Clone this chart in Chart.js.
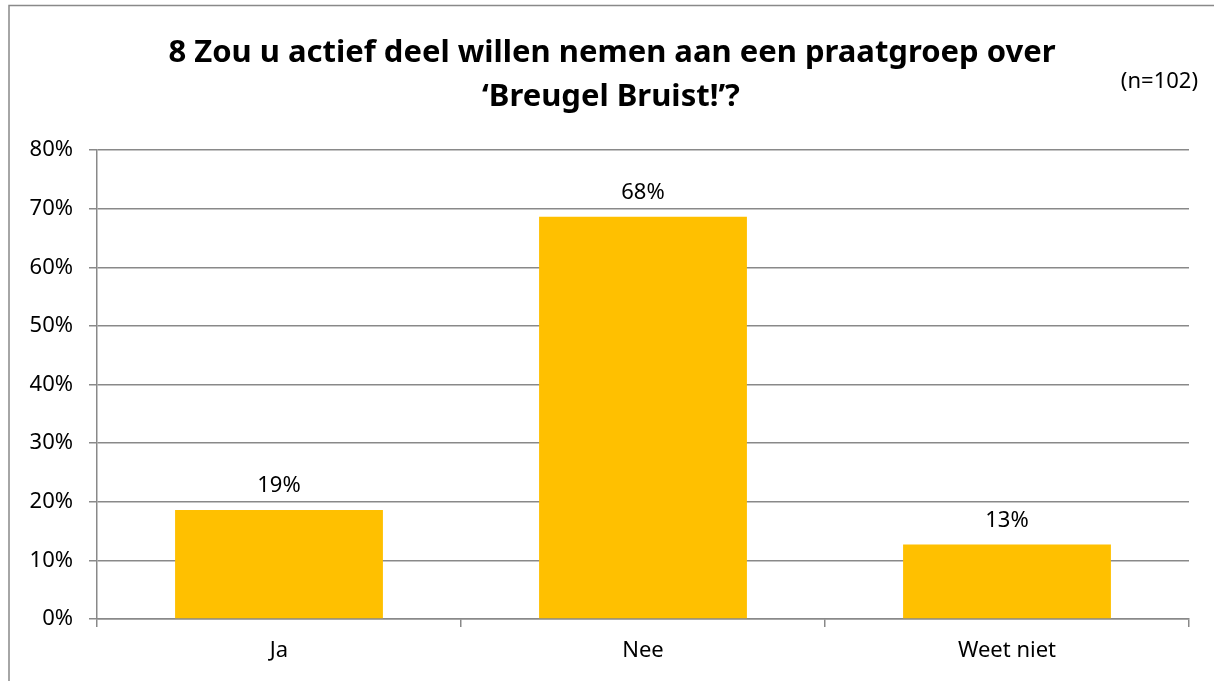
<!DOCTYPE html>
<html>
<head>
<meta charset="utf-8">
<script src="https://cdn.jsdelivr.net/npm/chart.js@4.4.1/dist/chart.umd.min.js"></script>
<style>
  html, body { margin: 0; padding: 0; background: #fff; }
  #wrap { width: 1214px; height: 681px; }
</style>
</head>
<body>
<div id="wrap"><canvas id="chart" width="1214" height="681"></canvas></div>
<script>
var titleLines = ['8 Zou u actief deel willen nemen aan een praatgroep over', '\u2018Breugel Bruist!\u2019?'];
var sampleNote = '(n=102)';
var categories = ['Ja', 'Nee', 'Weet niet'];
var percentages = [18.6, 68.6, 12.7];
var valueLabels = ['19%', '68%', '13%'];
var yTicks = [0, 10, 20, 30, 40, 50, 60, 70, 80];

var gridGray = '#898989';
var font = "'Noto Sans', 'Open Sans', sans-serif";

// frame, title and the (n=...) note
var decor = {
	id: 'decor',
	beforeDraw: function (chart) {
		var ctx = chart.ctx;
		ctx.save();
		ctx.fillStyle = '#fff';
		ctx.fillRect(0, 0, chart.width, chart.height);
		ctx.strokeStyle = gridGray;
		ctx.lineWidth = 1.5;
		ctx.strokeRect(9, 5.5, 1300, 800);
		ctx.restore();
	},
	afterDraw: function (chart) {
		var ctx = chart.ctx;
		ctx.save();
		ctx.fillStyle = '#000';
		ctx.textAlign = 'center';
		ctx.textBaseline = 'alphabetic';
		ctx.font = 'bold 31px ' + font;
		ctx.fillText(titleLines[0], 612, 62);
		ctx.fillText(titleLines[1], 611, 106);
		ctx.font = '22px ' + font;
		ctx.textAlign = 'right';
		ctx.fillText(sampleNote, 1198, 88);
		ctx.restore();
	}
};

// percentage labels above the bars
var barLabels = {
	id: 'barLabels',
	afterDatasetsDraw: function (chart) {
		var ctx = chart.ctx;
		var meta = chart.getDatasetMeta(0);
		ctx.save();
		ctx.fillStyle = '#000';
		ctx.font = '22px ' + font;
		ctx.textAlign = 'center';
		ctx.textBaseline = 'alphabetic';
		meta.data.forEach(function (bar, i) {
			ctx.fillText(valueLabels[i], bar.x, bar.y - 18);
		});
		ctx.restore();
	}
};

new Chart(document.getElementById('chart'), {
	type: 'bar',
	data: {
		labels: categories,
		datasets: [{
			data: percentages,
			backgroundColor: '#FFC000',
			borderWidth: 0,
			barPercentage: 1,
			categoryPercentage: 0.571
		}]
	},
	options: {
		responsive: false,
		animation: false,
		layout: { padding: { top: 150, right: 25, left: 0, bottom: 0 } },
		plugins: {
			legend: { display: false },
			title: { display: false },
			tooltip: { enabled: false }
		},
		scales: {
			x: {
				grid: {
					display: true,
					drawOnChartArea: false,
					offset: true,
					tickLength: 8,
					color: gridGray,
					lineWidth: 1.5
				},
				border: { display: true, color: gridGray, width: 1.5 },
				ticks: { color: '#000', font: { family: font, size: 22 }, padding: 11 },
				afterFit: function (s) { s.height = 62; }
			},
			y: {
				min: 0,
				max: 80,
				afterBuildTicks: function (s) {
					s.ticks = yTicks.map(function (v) { return { value: v }; });
				},
				grid: { color: gridGray, lineWidth: 1.5, tickLength: 8 },
				border: { display: true, color: gridGray, width: 1.5 },
				ticks: {
					color: '#000',
					font: { family: font, size: 22 },
					padding: 16,
					callback: function (v) { return v + '%'; }
				},
				afterFit: function (s) { s.width = 97; }
			}
		}
	},
	plugins: [decor, barLabels]
});
</script>
</body>
</html>
